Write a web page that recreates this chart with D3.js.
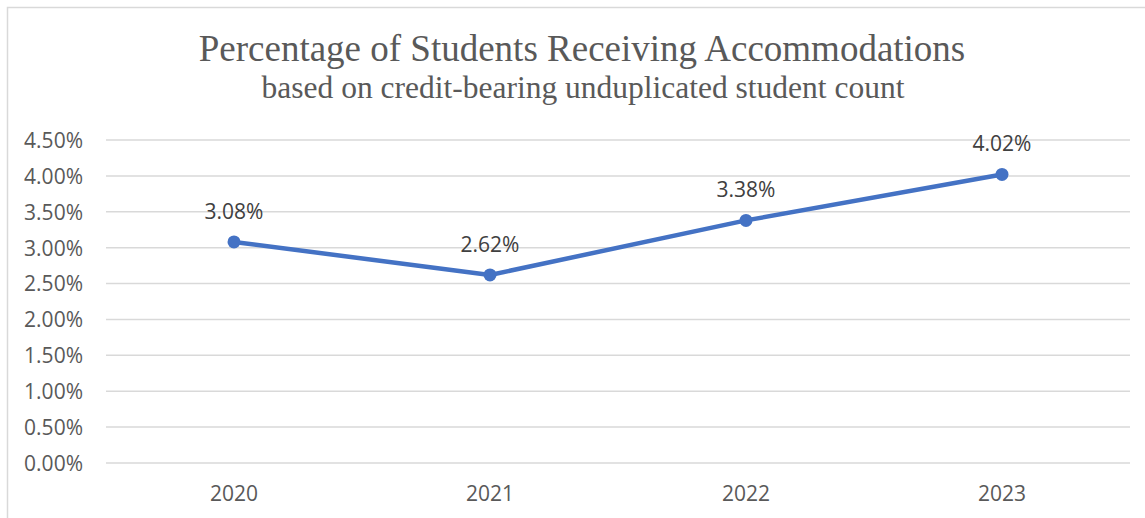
<!DOCTYPE html>
<html><head><meta charset="utf-8">
<script src="https://cdn.jsdelivr.net/npm/d3@7"></script>
<style>html,body{margin:0;padding:0;background:#fff;}</style>
</head><body><svg id="c" width="1145" height="518"></svg>
<script>
const categories = ["2020", "2021", "2022", "2023"];
const values = [0.0308, 0.0262, 0.0338, 0.0402];
const dataLabels = ["3.08%", "2.62%", "3.38%", "4.02%"];
const yTicks = [0, 0.005, 0.01, 0.015, 0.02, 0.025, 0.03, 0.035, 0.04, 0.045];
const titleText = "Percentage of Students Receiving Accommodations";
const subtitleText = "based on credit-bearing unduplicated student count";

(function () {
const svg = d3.select("#c");
svg.append("rect").attr("x", 7.5).attr("y", 7.5).attr("width", 1160).attr("height", 540)
  .attr("fill", "#fff").attr("stroke", "#d9d9d9").attr("stroke-width", 1.5);

const pLeft = 106, pRight = 1130, pTop = 140, pBottom = 463;
const x = d3.scaleBand().domain(categories).range([pLeft, pRight]);
const y = d3.scaleLinear().domain([0, 0.045]).range([pBottom, pTop]);

svg.append("text").attr("x", 582).attr("y", 61).attr("text-anchor", "middle")
  .attr("font-family", "Liberation Serif, serif").attr("font-size", 37).attr("fill", "#595959").text(titleText);
svg.append("text").attr("x", 583).attr("y", 98).attr("text-anchor", "middle")
  .attr("font-family", "Liberation Serif, serif").attr("font-size", 31.5).attr("fill", "#595959").text(subtitleText);

const font = "Open Sans, sans-serif";
svg.append("g").selectAll("line").data(yTicks).join("line")
  .attr("x1", pLeft).attr("x2", pRight).attr("y1", d => y(d)).attr("y2", d => y(d))
  .attr("stroke", "#d9d9d9").attr("stroke-width", 1.5);

const yAxis = d3.axisLeft(y).tickValues(yTicks).tickFormat(d3.format(".2%")).tickSize(0).tickPadding(0);
const gy = svg.append("g").attr("transform", "translate(83,0)").call(yAxis);
gy.select(".domain").remove();
gy.selectAll("text").attr("font-family", font).attr("font-size", 21).attr("fill", "#595959").attr("dy", "0.35em");

const xAxis = d3.axisBottom(x).tickSize(0).tickPadding(0);
const gx = svg.append("g").attr("transform", `translate(0,${pBottom})`).call(xAxis);
gx.select(".domain").remove();
gx.selectAll("text").attr("font-family", font).attr("font-size", 21).attr("fill", "#595959").attr("dy", null).attr("y", 38);

const cx = (d, i) => x(categories[i]) + x.bandwidth() / 2;
const line = d3.line().x((d, i) => cx(d, i)).y(d => y(d));
svg.append("path").datum(values).attr("d", line).attr("fill", "none")
  .attr("stroke", "#4472C4").attr("stroke-width", 4.5).attr("stroke-linejoin", "round");
svg.append("g").selectAll("circle").data(values).join("circle")
  .attr("cx", cx).attr("cy", d => y(d)).attr("r", 6.5).attr("fill", "#4472C4");
svg.append("g").selectAll("text").data(values).join("text")
  .attr("x", cx).attr("y", d => y(d) - 23).attr("text-anchor", "middle")
  .attr("font-family", font).attr("font-size", 21).attr("fill", "#404040")
  .text((d, i) => dataLabels[i]);
})();
</script></body></html>
